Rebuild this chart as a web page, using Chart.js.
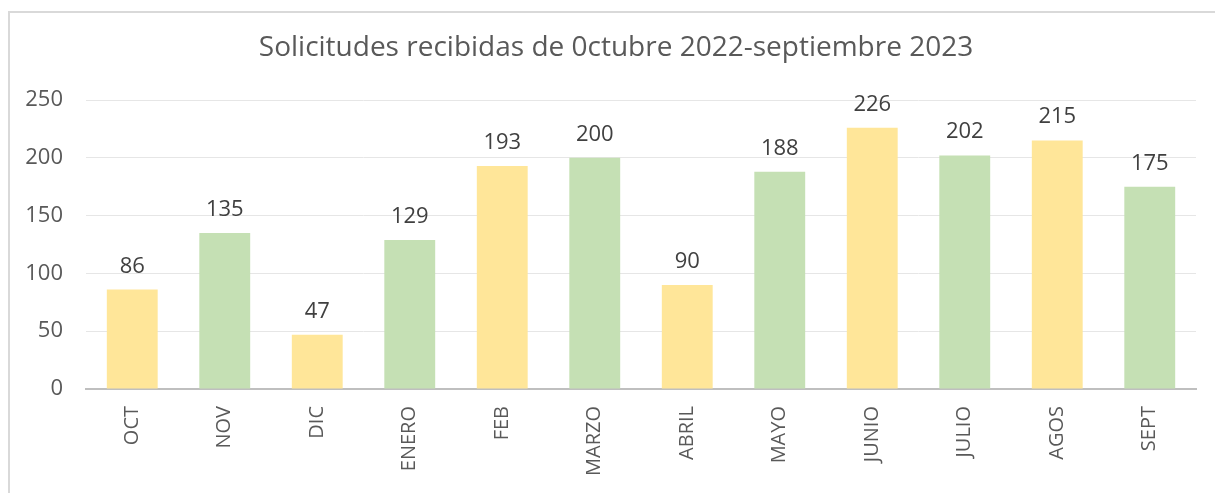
<!DOCTYPE html>
<html>
<head>
<meta charset="utf-8">
<script src="https://cdn.jsdelivr.net/npm/chart.js@4/dist/chart.umd.min.js"></script>
<style>
html,body{margin:0;padding:0;background:#fff;}
#wrap{position:relative;width:1215px;height:493px;}
</style>
</head>
<body>
<div id="wrap"><canvas id="c" width="1215" height="493"></canvas></div>
<script>
const categories = ["OCT","NOV","DIC","ENERO","FEB","MARZO","ABRIL","MAYO","JUNIO","JULIO","AGOS","SEPT"];
const values = [86,135,47,129,193,200,90,188,226,202,215,175];
const barColors = ["#FFE699","#C5E0B4","#FFE699","#C5E0B4","#FFE699","#C5E0B4","#FFE699","#C5E0B4","#FFE699","#C5E0B4","#FFE699","#C5E0B4"];
const titleText = "Solicitudes recibidas de 0ctubre 2022-septiembre 2023";
const yMax = 250, yStep = 50;

const FONT = "'Open Sans', sans-serif";

const framePlugin = {
  id: 'frame',
  beforeDraw(chart){
    const ctx = chart.ctx;
    ctx.save();
    ctx.fillStyle = '#ffffff';
    ctx.fillRect(0,0,chart.width,chart.height);
    ctx.strokeStyle = '#d9d9d9';
    ctx.lineWidth = 2;
    ctx.beginPath();
    ctx.moveTo(9, chart.height);
    ctx.lineTo(9, 12);
    ctx.lineTo(chart.width, 12);
    ctx.stroke();
    ctx.restore();
  },
  afterDraw(chart){
    const ctx = chart.ctx;
    ctx.save();
    ctx.font = "28px " + FONT;
    ctx.fillStyle = '#595959';
    ctx.textAlign = 'center';
    ctx.textBaseline = 'middle';
    ctx.fillText(titleText, 616, 48);
    ctx.restore();
  }
};

const labelPlugin = {
  id: 'valueLabels',
  afterDatasetsDraw(chart){
    const ctx = chart.ctx;
    const meta = chart.getDatasetMeta(0);
    ctx.save();
    ctx.font = "22px " + FONT;
    ctx.fillStyle = '#404040';
    ctx.textAlign = 'center';
    ctx.textBaseline = 'alphabetic';
    meta.data.forEach((bar, i) => {
      ctx.fillText(String(values[i]), bar.x, bar.y - 17);
    });
    ctx.restore();
  }
};

new Chart(document.getElementById('c'), {
  type: 'bar',
  data: {
    labels: categories,
    datasets: [{
      data: values,
      backgroundColor: barColors,
      borderWidth: 0,
      categoryPercentage: 1,
      barPercentage: 0.55
    }]
  },
  options: {
    responsive: false,
    animation: false,
    devicePixelRatio: 1,
    layout: { padding: { top: 100, left: 20, right: 19, bottom: 0 } },
    plugins: {
      legend: { display: false },
      tooltip: { enabled: false },
      title: { display: false }
    },
    scales: {
      x: {
        grid: { display: false, drawTicks: false },
        border: { display: true, color: '#bfbfbf', width: 2 },
        ticks: {
          color: '#595959',
          font: { family: FONT, size: 20 },
          minRotation: 90, maxRotation: 90,
          padding: 17,
          autoSkip: false
        },
        afterFit(scale){ scale.height = 104; }
      },
      y: {
        min: 0, max: yMax,
        grid: { color: '#e6e6e6', lineWidth: 1, drawTicks: false },
        border: { display: false },
        ticks: {
          stepSize: yStep,
          color: '#595959',
          font: { family: FONT, size: 22 },
          padding: 23
        },
        afterFit(scale){ scale.width = 66; }
      }
    }
  },
  plugins: [framePlugin, labelPlugin]
});
</script>
</body>
</html>
